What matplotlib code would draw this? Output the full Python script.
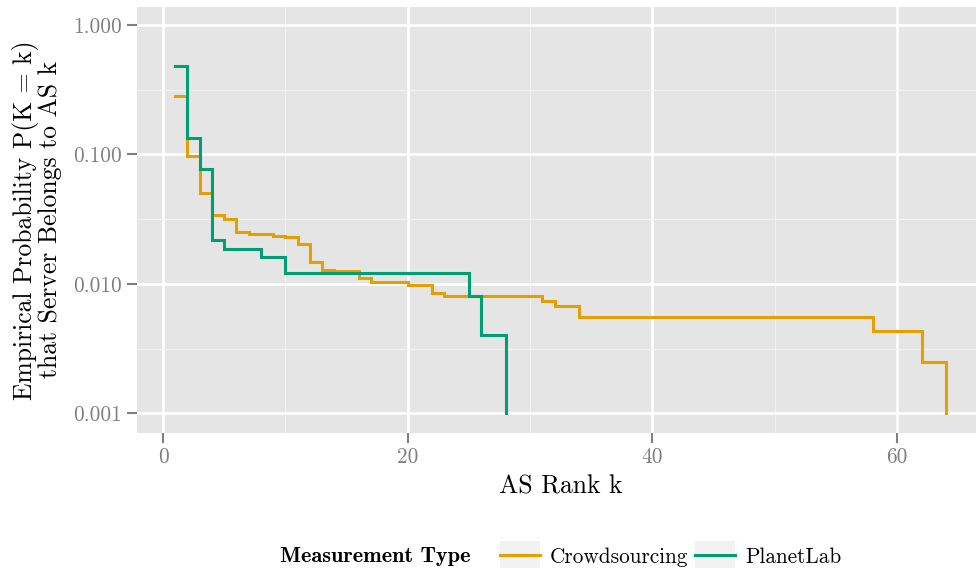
import matplotlib
matplotlib.use("Agg")
import matplotlib.pyplot as plt
from matplotlib.lines import Line2D
from matplotlib.patches import Rectangle
from matplotlib.legend_handler import HandlerLine2D
from matplotlib.ticker import FixedLocator, FixedFormatter

plt.rcParams['font.family'] = ['cmr10', 'DejaVu Serif']
plt.rcParams['axes.unicode_minus'] = False

# AS rank k and empirical probability
k_crowd = [1, 2, 3, 4, 5, 6, 7, 9, 10, 11, 12, 13, 14, 16, 17, 20, 22, 23, 31, 32, 34, 58, 62, 64]
p_crowd = [0.284, 0.0966, 0.050, 0.0337, 0.0318, 0.0251, 0.0241, 0.0233, 0.0228, 0.0204, 0.0147,
           0.0128, 0.0125, 0.0111, 0.0104, 0.00985, 0.00854, 0.0080, 0.00736, 0.00673, 0.00554,
           0.0043, 0.00248, 0.001]

k_planet = [1, 2, 3, 4, 5, 8, 10, 25, 26, 28]
p_planet = [0.477, 0.134, 0.0776, 0.0216, 0.0187, 0.0161, 0.0121, 0.00804, 0.0040, 0.001]

series_names = ["Crowdsourcing", "PlanetLab"]
series_colors = ["#E69F00", "#009E73"]

x_ticks = [0, 20, 40, 60]
y_ticks = [0.001, 0.01, 0.1, 1.0]
y_tick_labels = ["0.001", "0.010", "0.100", "1.000"]

W, H = 976, 568
fig = plt.figure(figsize=(W / 100, H / 100), dpi=100)
left, right, top, bottom = 136.7, 984.6, 6.7, 432.7
ax = fig.add_axes([left / W, 1 - bottom / H, (right - left) / W, (bottom - top) / H])
ax.set_facecolor("#E5E5E5")
for s in ax.spines.values():
    s.set_visible(False)

for kk, pp, col in zip([k_crowd, k_planet], [p_crowd, p_planet], series_colors):
    ax.step(kk, pp, where='post', color=col, lw=2.2, solid_joinstyle='miter', zorder=3)

ax.set_yscale('log')
ax.set_xlim(-2.15, 67.15)
ax.set_ylim(10 ** -3.15, 10 ** 0.14)

ax.xaxis.set_major_locator(FixedLocator(x_ticks))
ax.xaxis.set_minor_locator(FixedLocator([10, 30, 50]))
ax.yaxis.set_major_locator(FixedLocator(y_ticks))
ax.yaxis.set_major_formatter(FixedFormatter(y_tick_labels))
ax.yaxis.set_minor_locator(FixedLocator([10 ** -2.5, 10 ** -1.5, 10 ** -0.5]))
ax.yaxis.set_minor_formatter(FixedFormatter(["", "", ""]))

ax.grid(which='major', color='white', lw=1.9)
ax.grid(which='minor', color='#F2F2F2', lw=0.8)
ax.set_axisbelow(True)

ax.tick_params(which='major', length=7.5, width=1.5, color='#7F7F7F',
               labelcolor='#7F7F7F', labelsize=15.3, pad=3)
ax.tick_params(which='minor', length=0)

ax.set_xlabel("AS Rank k", fontsize=18.5, labelpad=6)
ax.set_ylabel("Empirical Probability P(K = k)\nthat Server Belongs to AS k",
              fontsize=18.5, labelpad=8, linespacing=0.95)


class KeyHandler(HandlerLine2D):
    def create_artists(self, legend, orig_handle, xdescent, ydescent, width, height, fontsize, trans):
        bg = Rectangle((-xdescent, -ydescent - 0.3 * height), width, height * 1.6,
                       facecolor='#F2F2F2', edgecolor='none', transform=trans)
        arts = super().create_artists(legend, orig_handle, xdescent, ydescent, width, height, fontsize, trans)
        return [bg] + list(arts)


handles = [Line2D([], [], color=c, lw=2.2) for c in series_colors]
fig.legend(handles, series_names, loc='center left', bbox_to_anchor=(500 / W, 1 - 557 / H),
           ncol=2, frameon=False, fontsize=15.3, handlelength=1.88, handleheight=1.0,
           handletextpad=0.47, columnspacing=0.33, borderaxespad=0, borderpad=0,
           handler_map={Line2D: KeyHandler()})
fig.text(280 / W, 1 - 557 / H, "Measurement Type", fontsize=16, fontfamily='cmb10',
         ha='left', va='center')

fig.savefig("out.png", dpi=100)
